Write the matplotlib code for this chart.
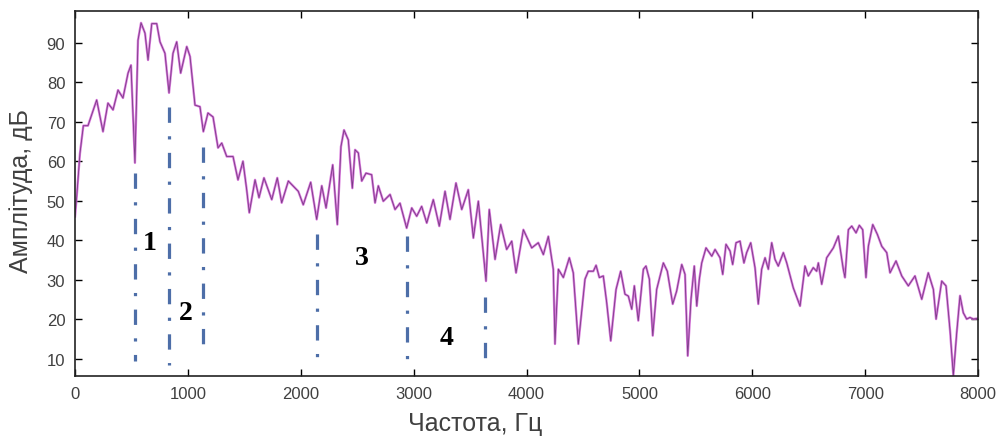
import matplotlib.pyplot as plt

# spectrum trace: frequency (Hz) and amplitude (dB)
freq = [0, 15, 44, 74, 115, 192, 248, 292, 337, 381, 425, 470, 496, 531, 558, 585,
        620, 647, 680, 724, 753, 797, 833, 868, 901, 936, 990, 1019, 1063, 1107,
        1137, 1178, 1223, 1267, 1300, 1344, 1400, 1444, 1488, 1521, 1544, 1595,
        1630, 1674, 1743, 1792, 1831, 1890, 1978, 2022, 2088, 2141, 2186, 2224,
        2283, 2324, 2356, 2383, 2421, 2457, 2481, 2510, 2540, 2578, 2628, 2658,
        2687, 2731, 2791, 2835, 2879, 2938, 2983, 3027, 3071, 3116, 3174, 3227,
        3278, 3322, 3375, 3426, 3484, 3529, 3573, 3641, 3670, 3721, 3771, 3824,
        3869, 3907, 3972, 4046, 4104, 4149, 4193, 4237, 4252, 4282, 4326, 4379,
        4414, 4459, 4518, 4547, 4592, 4616, 4645, 4680, 4710, 4746, 4793, 4834,
        4872, 4902, 4932, 4955, 4990, 5035, 5058, 5088, 5118, 5153, 5212, 5247,
        5295, 5330, 5375, 5404, 5428, 5457, 5486, 5508, 5531, 5552, 5590, 5641,
        5670, 5714, 5738, 5767, 5803, 5826, 5856, 5891, 5926, 5950, 5986, 6024,
        6053, 6083, 6113, 6142, 6172, 6201, 6230, 6275, 6305, 6363, 6423, 6467,
        6496, 6540, 6570, 6585, 6615, 6659, 6718, 6762, 6806, 6821, 6851, 6881,
        6919, 6948, 6978, 7007, 7028, 7067, 7108, 7147, 7191, 7220, 7273, 7324,
        7382, 7441, 7501, 7559, 7604, 7628, 7678, 7716, 7752, 7781, 7811, 7840,
        7869, 7899, 7928, 7958, 8000]
amp = [46, 51, 62, 69, 69, 75.5, 67.5, 74.7, 73, 78, 76, 82.3, 84.3, 59.6, 90.6, 95,
       92.4, 85.6, 94.8, 94.8, 90.2, 87.3, 77.3, 87.3, 90.2, 82.3, 89, 86.5, 74.2,
       73.8, 67.5, 72.2, 71.2, 63.4, 64.6, 61.2, 61.2, 55.3, 60, 52.8, 47, 55.3,
       50.8, 55.8, 50.3, 55.8, 49.5, 55, 52.4, 49, 54.7, 45.3, 53.8, 48.2, 59.1,
       44, 63.7, 67.9, 65.4, 53.2, 62.9, 62.1, 55, 57, 56.6, 49.5, 53.8, 49.9,
       51.6, 47.8, 49.4, 43.1, 48.2, 46.1, 48.6, 44.4, 50.3, 43.6, 52.4, 45.3,
       54.5, 47.8, 52.8, 40.6, 49.9, 29.7, 47.8, 35.2, 44, 37.7, 39.8, 31.8, 42.7,
       38.1, 39.4, 36.4, 41, 32.7, 13.8, 32.7, 30.6, 35.6, 31.8, 13.8, 30.2, 32.2,
       32.2, 33.7, 30.6, 31, 24.3, 14.6, 27.6, 32.2, 26.4, 25.9, 22.6, 28.5, 19.7,
       32.7, 33.5, 30.2, 15.9, 27.6, 34.3, 32.2, 23.9, 27.2, 33.9, 31.4, 10.8,
       25.1, 33.5, 23.4, 30.2, 34.3, 38.1, 36, 37.7, 35.6, 31.4, 39, 37.3, 33.9,
       39.4, 39.8, 34.3, 36.9, 39.4, 33.1, 23.9, 32.7, 35.6, 32.7, 39.4, 35.2,
       33.5, 36.9, 34.3, 28, 23.4, 33.5, 31, 33.1, 32.2, 34.3, 28.9, 35.6, 38.1,
       41.1, 32.7, 30.6, 42.7, 43.6, 41.9, 43.8, 42.7, 30.6, 38.5, 44, 41.5, 38.5,
       36.9, 31.8, 34.8, 31, 28.5, 31, 25.1, 31.8, 27.6, 20.1, 29.7, 28.5, 17.1,
       5.8, 16.7, 26, 21.7, 20.1, 20.5, 20.1, 20.3]

# band boundaries (x, top, bottom) and band numbers
bound_x = [531, 833, 1137, 2141, 2938, 3632]
bound_top = [57, 73.8, 63.7, 41.5, 41, 25.6]
bound_bottom = [9.6, 8.5, 12.5, 7.5, 7.5, 8.7]
band_labels = ['1', '2', '3', '4']
label_x = [664, 983, 2542, 3295]
label_y = [39.5, 21.8, 35.7, 15.5]

plt.rcParams['font.family'] = ['Liberation Sans', 'DejaVu Sans']

fig = plt.figure(figsize=(9.96, 4.39), dpi=100)
ax = fig.add_axes([0.0753, 0.1412, 0.9067, 0.8315])

# magenta trace with a darker core
ax.plot(freq, amp, color='#d46ad8', lw=1.7, alpha=0.9, solid_joinstyle='round')
ax.plot(freq, amp, color='#7a3c86', lw=0.6)

# dash-dot boundaries, drawn top-down so each starts with a dash
for x, t, b in zip(bound_x, bound_top, bound_bottom):
    ax.plot([x, x], [t, b], color='#4d6ea8', lw=2.3,
            linestyle=(0, (4.8, 4.2, 1, 4.2)))

for s, x, y in zip(band_labels, label_x, label_y):
    ax.text(x, y, s, fontsize=20, fontweight='bold', family=['Liberation Serif'],
            ha='center', va='center', color='black')

ax.set_xlim(0, 8000)
ax.set_ylim(5.7, 98)
ax.set_xticks(range(0, 8001, 1000))
ax.set_yticks(range(10, 91, 10))
ax.tick_params(direction='in', top=True, right=True, length=5, width=1,
               labelsize=12, labelcolor='#404040', pad=7)
for sp in ax.spines.values():
    sp.set_linewidth(1.2)
    sp.set_color('#222222')

ax.set_xlabel('Частота, Гц', fontsize=18, color='#404040')
ax.set_ylabel('Амплітуда, дБ', fontsize=18, color='#404040')
ax.xaxis.set_label_coords(0.443, -0.095)
ax.yaxis.set_label_coords(-0.046, 0.51)

plt.savefig('out.png', dpi=100)
